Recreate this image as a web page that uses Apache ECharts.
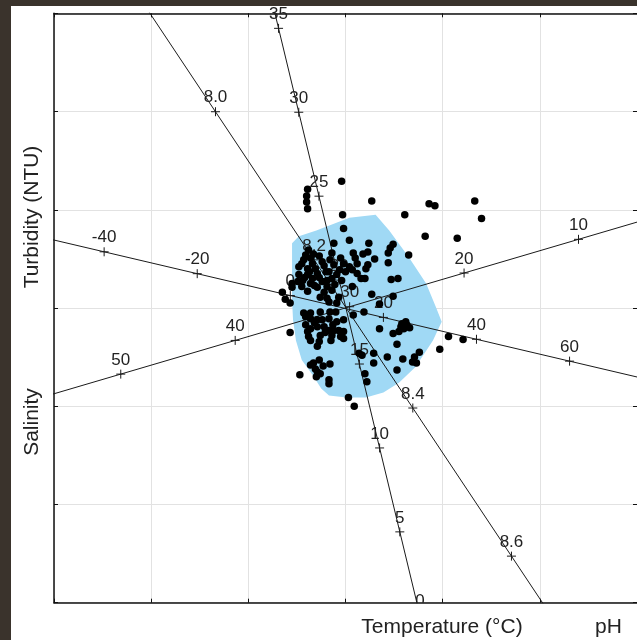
<!DOCTYPE html>
<html><head><meta charset="utf-8">
<script src="https://cdn.jsdelivr.net/npm/echarts@6/dist/echarts.min.js"></script>
<style>
html,body{margin:0;padding:0;background:#3a332c;width:637px;height:640px;overflow:hidden;}
#panel{position:absolute;left:11px;top:6px;width:626px;height:634px;background:#fff;}
#c{position:absolute;left:0;top:0;width:637px;height:640px;}
</style>
</head><body><div id="panel"></div><div id="c"></div>
<script>
// Sample scores (grid units: one grid cell = 10)
const samplePoints = [
[-0.4,12.9],[2.7,10.9],[8.6,10.6],[9.2,10.4],[13.3,10.9],[14.0,9.1],[-0.3,9.5],[6.1,9.5],[8.2,7.3],[11.5,7.1],
[-3.9,12.1],[-4.0,11.4],[-4.0,10.8],[-3.9,10.1],
[-0.2,8.1],[0.4,6.9],[-1.2,6.6],[2.4,6.6],[4.9,6.5],[4.6,6.1],[4.4,5.6],[6.5,5.4],[0.8,5.6],[1.8,5.5],[2.3,5.7],[4.4,4.6],[1.2,4.5],[2.3,4.4],[2.1,4.0],[-0.2,4.5],[0.4,4.2],[0.7,3.9],[0.0,3.7],[-0.5,5.1],[1.6,3.0],[2.0,3.0],[4.7,2.9],[5.4,3.0],[2.7,1.4],[4.9,1.2],[0.7,2.2],[3.5,0.4],
[-1.4,5.6],[-3.8,5.9],[-4.3,4.9],[-3.6,5.1],[-3.4,4.5],[-4.5,4.5],[-3.9,4.0],[-4.8,4.2],[-3.1,4.0],[-1.6,4.9],[-1.2,4.4],
[-4.8,3.4],[-3.9,3.4],[-3.4,3.0],[-2.9,3.5],[-2.4,2.7],[-1.9,2.8],[-1.4,3.0],[-0.9,3.4],[-5.5,2.5],[-5.5,2.1],[-4.5,2.2],[-3.6,2.5],[-1.9,2.2],[-1.4,1.8],[-6.5,1.6],[-6.2,0.9],[-5.7,0.5],[-2.6,1.1],[-1.9,1.0],[-1.7,0.6],[-0.7,1.1],
[-4.3,-0.5],[-3.6,-0.5],[-2.6,-0.4],[-1.6,-0.4],[0.8,-0.7],[1.9,-0.4],[-4.1,-0.9],[-3.6,-1.1],[-2.9,-1.2],[-2.4,-1.2],[-1.7,-1.1],[-1.0,-0.4],[-0.9,-1.4],[-0.2,-1.2],[-4.1,-1.7],[-3.6,-2.1],[-2.9,-1.9],[-2.2,-1.9],[-1.7,-2.3],[-1.2,-2.3],[-0.7,-2.3],[-3.9,-2.4],[-3.8,-2.9],[-2.6,-2.8],[-1.4,-2.8],[-0.5,-2.9],[-0.2,-3.1],[-3.6,-3.3],[-2.7,-3.4],[-2.9,-3.9],[-5.7,-2.5],
[1.4,-4.6],[1.7,-4.8],[-2.7,-5.3],[-3.3,-5.6],[-3.6,-5.8],[-3.1,-6.2],[-2.6,-6.7],[-2.9,-6.5],[-1.6,-5.7],[-4.7,-6.8],[-1.7,-7.3],[-1.7,-7.7],[2.0,-6.7],[2.2,-7.5],[0.3,-9.1],[0.9,-10.0],
[3.5,-2.1],[4.9,-2.6],[5.5,-2.4],[5.8,-1.6],[6.2,-1.4],[6.3,-1.7],[5.7,-1.9],[6.0,-2.1],[5.3,-3.7],[2.9,-4.6],[4.3,-5.0],[5.9,-5.2],[6.9,-5.5],[7.1,-5.0],[7.6,-4.5],[7.3,-5.6],[2.9,-5.6],[5.3,-6.3],[10.6,-2.9],[12.1,-3.2],[9.7,-4.2],
[-2.7,5.3],[-2.2,4.3],[-4.4,2.8],[-2.9,2.1],[-1.1,2.4],[-0.4,2.8],[-0.2,-2.4],
[-3.3,5.5],[-4.1,5.4],[-2.4,4.7],[-3.7,3.7],[-4.2,3.1],[-2.0,3.7],[-2.7,3.1],[-3.2,2.3],[-0.6,3.9],[-1.7,3.7],[-4.9,2.7],[-3.9,1.7],[-2.2,1.6],[-0.9,0.5],[1.2,3.5],[1.0,5.1],[3.0,5.0],
[-1.5,-3.3],[-2.1,-2.5],[-3.2,-1.5],[-1.3,-1.7],[6.6,-2.0],[-2.3,-5.9],[-3.0,-7.0]
];

// Convex hull outline (blue area)
const hullOutline = [
[-5.5,6.6],[-4.8,7.3],[-3.0,7.9],[0.4,9.2],[3.1,9.5],[4.5,7.9],[6.5,5.2],[8.3,2.5],[9.3,0.1],[9.9,-1.4],
[9.0,-3.3],[7.2,-6.0],[5.5,-7.6],[3.9,-8.6],[2.1,-9.1],[0.1,-9.1],[-1.7,-8.9],[-2.5,-8.2],[-3.4,-6.8],
[-4.5,-5.3],[-5.1,-3.3],[-5.4,-1.2],[-5.5,0.8]
];

// Biplot axes: tick labels and two calibration anchors [value, x, y]
const salinityTicks = ['50','40','30','20','10'];
const salinityAnchors = [[50,-23.13,-6.73],[10,23.98,6.99]];
const turbidityTicks = ['-40','-20','0','20','40','60'];
const turbidityAnchors = [[-40,-24.84,5.72],[60,23.06,-5.41]];
const temperatureTicks = ['35','30','25','20','15','10','5','0'];
const temperatureAnchors = [[35,-6.89,28.47],[5,5.59,-22.79]];
const phTicks = ['8.0','8.2','8.4','8.6'];
const phAnchors = [[8.0,-13.38,19.98],[8.6,17.08,-25.26]];

const biplotAxes = [
  [salinityTicks, salinityAnchors],
  [turbidityTicks, turbidityAnchors],
  [temperatureTicks, temperatureAnchors],
  [phTicks, phAnchors]
];

function calibrate(anchors, t) {
  const a = anchors[0], b = anchors[1];
  return [a[1] + (b[1]-a[1])*t, a[2] + (b[2]-a[2])*t];
}
function posOf(anchors, v) {
  const a = anchors[0], b = anchors[1];
  return calibrate(anchors, (v - a[0])/(b[0]-a[0]));
}

const tickData = [], tickLabels = [];
const lineSeries = [];
biplotAxes.forEach(([ticks, anchors]) => {
  ticks.forEach(t => { tickData.push(posOf(anchors, parseFloat(t))); tickLabels.push(t); });
  lineSeries.push({
    type:'line', data:[calibrate(anchors,-0.8), calibrate(anchors,1.8)],
    showSymbol:false, clip:true, silent:true, z:3,
    lineStyle:{color:'#1a1a1a', width:1}
  });
});

const FONT = '"Liberation Sans", Arial, sans-serif';
const axisCommon = {
  type:'value', min:-30, max:30, interval:10,
  axisLabel:{show:false},
  axisLine:{show:true, onZero:false, lineStyle:{color:'#111', width:1.5}},
  axisTick:{show:true, inside:true, length:4, lineStyle:{color:'#111', width:1}}
};

const chart = echarts.init(document.getElementById('c'), null, {renderer:'canvas'});
chart.setOption({
  backgroundColor:'transparent',
  animation:false,
  grid:{left:54, top:13.3, width:585, height:589.4, containLabel:false},
  xAxis:[
    Object.assign({}, axisCommon, {position:'bottom', splitLine:{show:true, lineStyle:{color:'#e2e2e2', width:1}}}),
    Object.assign({}, axisCommon, {position:'top', splitLine:{show:false}})
  ],
  yAxis:[
    Object.assign({}, axisCommon, {position:'left', splitLine:{show:true, lineStyle:{color:'#e2e2e2', width:1}}}),
    Object.assign({}, axisCommon, {position:'right', splitLine:{show:false}, axisLine:{show:false, onZero:false}})
  ],
  graphic:[
    {type:'text', x:32.5, y:217, rotation:Math.PI/2, style:{text:'Turbidity (NTU)', font:'21px '+FONT, fill:'#222', textAlign:'center', textVerticalAlign:'middle', align:'center', verticalAlign:'middle'}},
    {type:'text', x:32.5, y:422, rotation:Math.PI/2, style:{text:'Salinity', font:'21px '+FONT, fill:'#222', textAlign:'center', textVerticalAlign:'middle', align:'center', verticalAlign:'middle'}},
    {type:'text', x:442, y:627, style:{text:'Temperature (°C)', font:'21px '+FONT, fill:'#222', textAlign:'center', textVerticalAlign:'middle', align:'center', verticalAlign:'middle'}},
    {type:'text', x:608.5, y:627, style:{text:'pH', font:'21px '+FONT, fill:'#222', textAlign:'center', textVerticalAlign:'middle', align:'center', verticalAlign:'middle'}}
  ],
  series:[
    {
      type:'custom', z:1, silent:true, data:[0],
      renderItem:function(params, api){
        const pts = hullOutline.map(p => api.coord(p));
        return {type:'polygon', shape:{points:pts}, style:{fill:'#a0d9f5', stroke:null}};
      }
    }
  ].concat(lineSeries).concat([
    {
      type:'custom', z:4, silent:true, clip:false, data:tickData,
      renderItem:function(params, api){
        const p = api.coord([api.value(0), api.value(1)]);
        const cs = params.coordSys;
        const lbl = tickLabels[params.dataIndex];
        return {
          type:'group',
          clipPath:{type:'rect', shape:{x:0, y:0, width:700, height:cs.y+cs.height}},
          children:[
            {type:'line', shape:{x1:p[0]-4.5, y1:p[1], x2:p[0]+4.5, y2:p[1]}, style:{stroke:'#1a1a1a', lineWidth:1}},
            {type:'line', shape:{x1:p[0], y1:p[1]-4.5, x2:p[0], y2:p[1]+4.5}, style:{stroke:'#1a1a1a', lineWidth:1}},
            {type:'text', x:p[0], y:p[1]-14, style:{text:lbl, font:'17px '+FONT, fill:'#222', align:'center', verticalAlign:'middle', textAlign:'center', textVerticalAlign:'middle'}}
          ]
        };
      }
    },
    {
      type:'scatter', z:5, silent:true, data:samplePoints,
      symbol:'circle', symbolSize:7.5,
      itemStyle:{color:'#000', opacity:1}
    }
  ])
});
</script>
</body></html>
